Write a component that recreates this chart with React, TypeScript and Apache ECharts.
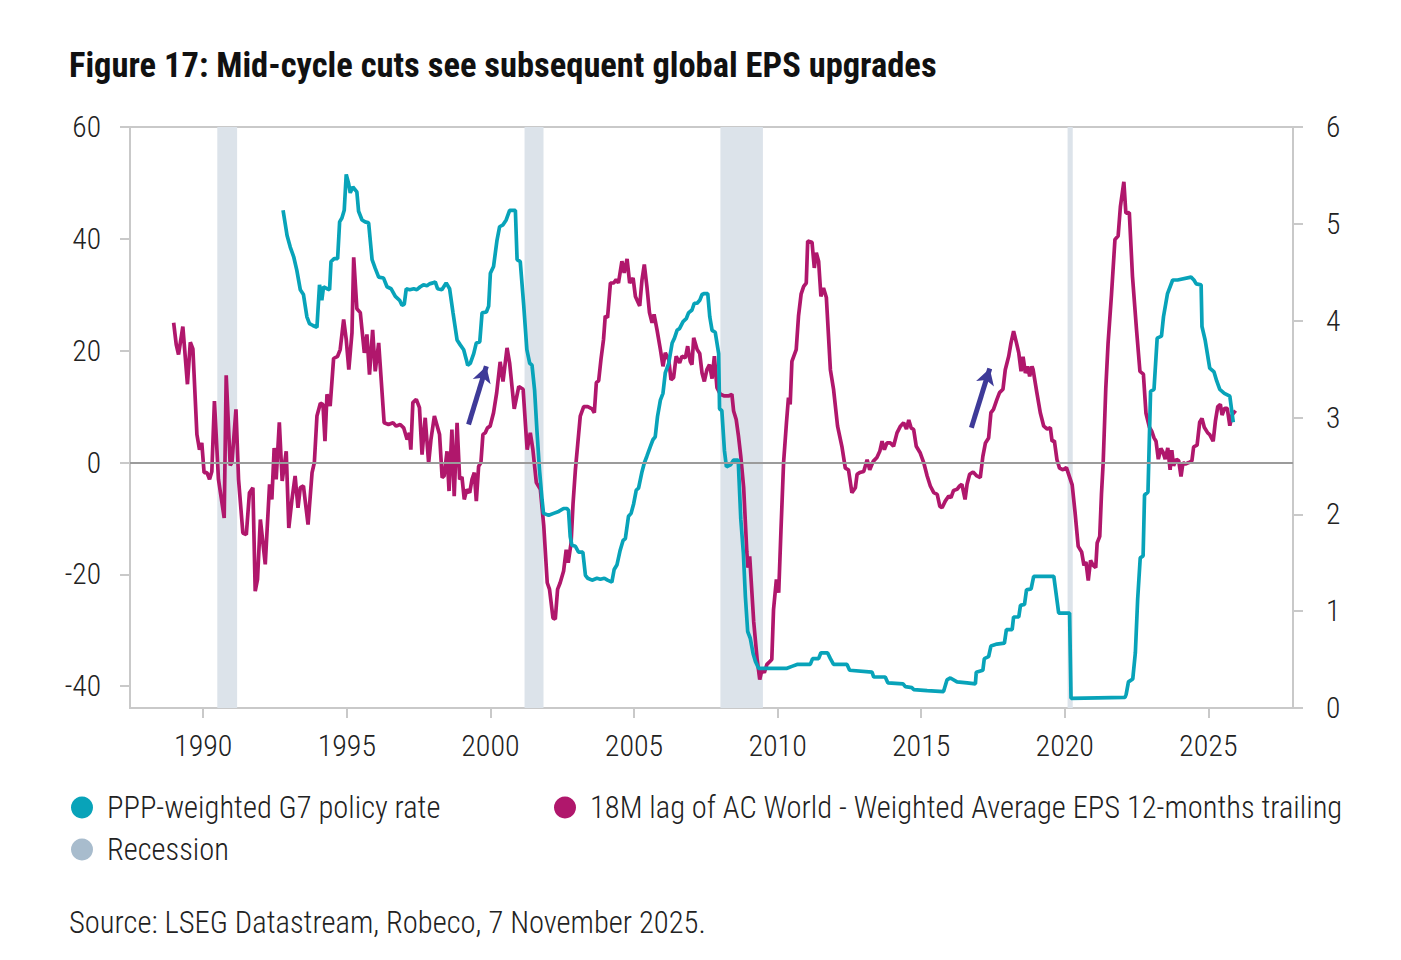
import React, { useEffect, useRef } from "react";
import * as echarts from "echarts";

const FONT = "'Roboto Condensed', 'Liberation Sans Narrow', 'DejaVu Sans Condensed', Roboto, sans-serif";

const TITLE = "Figure 17: Mid-cycle cuts see subsequent global EPS upgrades";
const SOURCE = "Source: LSEG Datastream, Robeco, 7 November 2025.";
const RATE_NAME = "PPP-weighted G7 policy rate";
const EPS_NAME = "18M lag of AC World - Weighted Average EPS 12-months trailing";
const REC_NAME = "Recession";

const xTicks = [1990, 1995, 2000, 2005, 2010, 2015, 2020, 2025];
const leftTicks = [-40, -20, 0, 20, 40, 60];

const recessions: [number, number][] = [
  [1990.49, 1991.18],
  [2001.19, 2001.85],
  [2008.01, 2009.49],
  [2020.1, 2020.28],
];

const arrows: [[number, number], [number, number]][] = [
  [[1999.24, 6.8], [1999.86, 17.2]],
  [[2016.75, 6.2], [2017.39, 16.8]],
];

// 18M lag of AC World EPS (left axis, %)
const epsData: [number, number][] = [
  [1988.97, 25.0], [1989.06, 21.1], [1989.14, 19.3], [1989.29, 24.3], [1989.45, 14.0], [1989.55, 21.5],
  [1989.64, 20.3], [1989.78, 5.0], [1989.87, 2.3], [1989.95, 3.5], [1990.03, -1.8], [1990.13, -1.8],
  [1990.22, -3.0], [1990.3, -1.6], [1990.39, 11.0], [1990.53, -3.0], [1990.73, -9.9], [1990.8, 15.6],
  [1990.94, -0.5], [1991.0, 0.0], [1991.14, 9.5], [1991.23, -3.0], [1991.38, -12.6], [1991.5, -12.9],
  [1991.61, -5.4], [1991.73, -4.5], [1991.81, -23.0], [1991.89, -20.9], [1991.99, -10.2], [1992.16, -18.2],
  [1992.31, -3.9], [1992.39, -6.6], [1992.47, 2.6], [1992.54, -3.0], [1992.65, 7.2], [1992.75, -3.3],
  [1992.89, 2.0], [1992.98, -11.7], [1993.09, -6.6], [1993.2, -2.4], [1993.3, -8.1], [1993.38, -4.5],
  [1993.49, -4.2], [1993.65, -11.1], [1993.79, -1.8], [1993.87, 0.0], [1993.96, 8.3], [1994.08, 10.6],
  [1994.17, 10.4], [1994.24, 3.8], [1994.31, 12.2], [1994.42, 10.1], [1994.54, 18.6], [1994.68, 19.0],
  [1994.77, 20.2], [1994.89, 25.6], [1994.98, 22.0], [1995.07, 16.6], [1995.18, 23.2], [1995.24, 36.7],
  [1995.35, 27.5], [1995.47, 26.8], [1995.61, 19.6], [1995.7, 22.9], [1995.79, 15.7], [1995.9, 23.7],
  [1995.99, 16.3], [1996.11, 21.4], [1996.3, 7.1], [1996.45, 6.8], [1996.61, 7.1], [1996.72, 6.5],
  [1996.86, 6.8], [1996.98, 6.2], [1997.1, 4.1], [1997.18, 5.3], [1997.23, 2.3], [1997.3, 10.7],
  [1997.42, 11.3], [1997.53, 9.8], [1997.62, 1.4], [1997.73, 8.0], [1997.85, -0.1], [1997.93, 4.1],
  [1998.05, 8.3], [1998.23, 5.0], [1998.32, -2.7], [1998.39, -2.4], [1998.49, 2.0], [1998.56, -5.1],
  [1998.66, 5.9], [1998.74, -6.0], [1998.84, 7.1], [1998.93, -3.0], [1999.01, -2.6], [1999.09, -6.6],
  [1999.18, -4.8], [1999.28, -5.4], [1999.36, -3.0], [1999.44, -1.8], [1999.51, -6.9], [1999.59, -0.7],
  [1999.67, 0.0], [1999.74, 5.0], [1999.82, 5.3], [1999.9, 6.2], [1999.99, 6.5], [2000.11, 8.9],
  [2000.22, 12.5], [2000.34, 18.0], [2000.44, 14.5], [2000.58, 20.5], [2000.67, 17.8], [2000.83, 9.6],
  [2000.99, 13.6], [2001.14, 13.1], [2001.28, 2.3], [2001.39, 5.3], [2001.48, 2.3], [2001.6, -3.6],
  [2001.74, -4.8], [2001.86, -11.4], [2001.98, -21.5], [2002.06, -22.7], [2002.18, -27.8], [2002.26, -28.0],
  [2002.34, -22.7], [2002.43, -21.5], [2002.55, -19.4], [2002.64, -15.6], [2002.71, -17.9], [2002.81, -14.4],
  [2002.88, -7.2], [2002.96, -1.3], [2003.04, 3.2], [2003.13, 8.3], [2003.25, 10.0], [2003.39, 10.0],
  [2003.54, 9.6], [2003.62, 8.9], [2003.69, 14.3], [2003.77, 14.6], [2003.85, 18.4], [2003.94, 22.0],
  [2004.0, 26.2], [2004.08, 25.9], [2004.18, 32.1], [2004.29, 32.1], [2004.38, 32.7], [2004.46, 32.1],
  [2004.58, 36.0], [2004.66, 33.9], [2004.76, 36.4], [2004.85, 32.1], [2004.97, 33.0], [2005.05, 29.7],
  [2005.2, 28.0], [2005.28, 32.7], [2005.36, 35.4], [2005.45, 31.5], [2005.54, 26.8], [2005.63, 25.0],
  [2005.7, 26.5], [2005.8, 23.8], [2005.92, 20.2], [2006.01, 17.2], [2006.09, 19.6], [2006.21, 18.4],
  [2006.29, 14.8], [2006.38, 15.2], [2006.47, 19.0], [2006.59, 17.8], [2006.67, 19.0], [2006.79, 18.7],
  [2006.87, 20.8], [2006.96, 18.1], [2007.02, 17.5], [2007.08, 22.3], [2007.2, 20.2], [2007.29, 19.5],
  [2007.37, 16.0], [2007.45, 14.5], [2007.54, 16.6], [2007.63, 17.5], [2007.72, 15.0], [2007.8, 19.0],
  [2007.89, 13.4], [2008.01, 12.2], [2008.15, 11.9], [2008.29, 11.9], [2008.41, 12.2], [2008.47, 9.2],
  [2008.56, 7.7], [2008.64, 4.7], [2008.72, 1.1], [2008.82, -4.5], [2008.93, -16.0], [2008.97, -18.8],
  [2009.03, -16.8], [2009.17, -28.5], [2009.29, -35.2], [2009.38, -38.8], [2009.46, -37.0], [2009.54, -37.6],
  [2009.63, -36.1], [2009.75, -35.5], [2009.8, -35.2], [2009.86, -26.3], [2009.96, -20.9], [2010.04, -23.3],
  [2010.12, -12.0], [2010.21, 0.0], [2010.31, 7.1], [2010.38, 11.6], [2010.44, 10.4], [2010.5, 18.1],
  [2010.65, 20.2], [2010.73, 26.2], [2010.82, 30.1], [2010.91, 31.5], [2011.0, 32.1], [2011.05, 39.6],
  [2011.2, 39.4], [2011.28, 34.8], [2011.35, 37.5], [2011.43, 36.0], [2011.51, 29.7], [2011.6, 31.2],
  [2011.7, 29.5], [2011.84, 16.6], [2011.95, 13.1], [2012.09, 6.5], [2012.24, 2.9], [2012.36, -1.0],
  [2012.47, -1.3], [2012.59, -5.4], [2012.71, -4.5], [2012.77, -2.1], [2012.86, -1.8], [2013.0, -1.6],
  [2013.12, 0.5], [2013.21, -1.3], [2013.33, 0.2], [2013.46, 0.9], [2013.56, 2.0], [2013.64, 3.8],
  [2013.72, 2.3], [2013.81, 3.5], [2013.93, 3.5], [2014.04, 2.9], [2014.16, 5.3], [2014.28, 6.5],
  [2014.39, 7.1], [2014.49, 6.0], [2014.57, 7.6], [2014.65, 6.2], [2014.74, 5.9], [2014.83, 2.9],
  [2014.97, 1.7], [2015.09, 0.0], [2015.21, -2.4], [2015.32, -4.2], [2015.44, -5.4], [2015.56, -5.7],
  [2015.65, -7.8], [2015.73, -8.1], [2015.84, -6.9], [2015.96, -6.0], [2016.04, -6.3], [2016.13, -5.0],
  [2016.25, -4.8], [2016.34, -4.2], [2016.42, -3.9], [2016.53, -6.6], [2016.6, -3.9], [2016.69, -2.1],
  [2016.81, -1.7], [2016.94, -2.4], [2017.06, -2.7], [2017.15, 1.1], [2017.24, 3.5], [2017.35, 4.4],
  [2017.43, 8.9], [2017.52, 9.5], [2017.64, 11.3], [2017.73, 12.5], [2017.85, 13.1], [2017.93, 16.6],
  [2018.05, 19.0], [2018.13, 21.4], [2018.22, 23.5], [2018.32, 21.4], [2018.4, 19.6], [2018.48, 16.3],
  [2018.55, 18.9], [2018.63, 16.0], [2018.71, 17.2], [2018.78, 15.4], [2018.86, 17.2], [2018.9, 16.6],
  [2019.03, 12.5], [2019.15, 8.9], [2019.27, 6.5], [2019.39, 6.0], [2019.5, 6.2], [2019.56, 3.8],
  [2019.64, 3.9], [2019.73, 0.5], [2019.82, -1.0], [2019.94, -1.3], [2020.06, -0.9], [2020.17, -2.6],
  [2020.26, -4.0], [2020.36, -8.9], [2020.47, -15.0], [2020.59, -16.0], [2020.67, -18.4], [2020.74, -17.8],
  [2020.82, -21.1], [2020.9, -17.5], [2020.99, -18.4], [2021.08, -18.8], [2021.13, -14.4], [2021.22, -13.2],
  [2021.28, -5.7], [2021.34, 0.0], [2021.43, 13.2], [2021.51, 21.3], [2021.63, 30.1], [2021.75, 39.9],
  [2021.86, 40.5], [2021.94, 45.8], [2022.06, 50.2], [2022.13, 44.6], [2022.25, 44.7], [2022.36, 33.3],
  [2022.5, 23.8], [2022.62, 16.3], [2022.74, 15.8], [2022.83, 8.8], [2022.95, 6.3], [2023.03, 5.6],
  [2023.11, 4.4], [2023.18, 3.8], [2023.26, 0.6], [2023.35, 2.5], [2023.42, 1.9], [2023.5, 0.6],
  [2023.59, 2.6], [2023.67, -1.3], [2023.73, 2.2], [2023.79, -0.6], [2023.89, 0.6], [2023.97, 0.3],
  [2024.05, -2.5], [2024.12, 0.0], [2024.2, -0.3], [2024.32, 0.0], [2024.43, 0.3], [2024.49, 2.8],
  [2024.61, 3.1], [2024.7, 7.2], [2024.78, 7.9], [2024.86, 6.3], [2024.98, 5.3], [2025.05, 5.0],
  [2025.17, 3.8], [2025.25, 7.5], [2025.33, 10.0], [2025.42, 10.4], [2025.48, 8.5], [2025.57, 9.7],
  [2025.66, 9.7], [2025.75, 6.6], [2025.83, 8.5], [2025.95, 9.3],
];

// PPP-weighted G7 policy rate (right axis, %)
const rateData: [number, number][] = [
  [1992.78, 5.14], [1992.92, 4.88], [1993.03, 4.76], [1993.15, 4.66], [1993.26, 4.52], [1993.38, 4.32],
  [1993.49, 4.27], [1993.61, 4.04], [1993.7, 3.97], [1993.82, 3.95], [1993.96, 3.93], [1994.05, 4.37],
  [1994.13, 4.21], [1994.19, 4.35], [1994.31, 4.33], [1994.4, 4.32], [1994.45, 4.61], [1994.56, 4.64],
  [1994.68, 4.64], [1994.75, 5.02], [1994.83, 5.06], [1994.91, 5.14], [1994.98, 5.51], [1995.06, 5.42],
  [1995.12, 5.32], [1995.21, 5.38], [1995.35, 5.33], [1995.41, 5.13], [1995.53, 5.04], [1995.64, 5.02],
  [1995.76, 5.01], [1995.88, 4.63], [1995.99, 4.54], [1996.11, 4.45], [1996.28, 4.44], [1996.4, 4.35],
  [1996.54, 4.33], [1996.69, 4.25], [1996.84, 4.21], [1996.92, 4.16], [1997.0, 4.17], [1997.07, 4.33],
  [1997.19, 4.32], [1997.33, 4.33], [1997.44, 4.32], [1997.56, 4.35], [1997.67, 4.37], [1997.79, 4.36],
  [1997.88, 4.38], [1998.0, 4.39], [1998.08, 4.4], [1998.16, 4.33], [1998.31, 4.32], [1998.46, 4.39],
  [1998.58, 4.33], [1998.7, 4.08], [1998.84, 3.8], [1998.95, 3.75], [1999.07, 3.7], [1999.16, 3.6],
  [1999.21, 3.54], [1999.3, 3.56], [1999.42, 3.66], [1999.51, 3.77], [1999.63, 3.78], [1999.71, 4.08],
  [1999.86, 4.09], [1999.94, 4.15], [2000.0, 4.49], [2000.11, 4.56], [2000.23, 4.83], [2000.32, 4.97],
  [2000.44, 4.99], [2000.55, 5.04], [2000.67, 5.14], [2000.87, 5.14], [2000.93, 4.63], [2001.04, 4.61],
  [2001.16, 4.16], [2001.27, 3.7], [2001.37, 3.56], [2001.45, 3.54], [2001.54, 3.28], [2001.62, 2.87],
  [2001.71, 2.46], [2001.8, 2.15], [2001.85, 2.01], [2002.03, 1.99], [2002.2, 2.01], [2002.38, 2.03],
  [2002.55, 2.06], [2002.67, 2.06], [2002.72, 2.04], [2002.78, 1.77], [2002.84, 1.68], [2002.96, 1.67],
  [2003.07, 1.61], [2003.22, 1.61], [2003.31, 1.37], [2003.39, 1.34], [2003.54, 1.32], [2003.71, 1.34],
  [2003.83, 1.33], [2003.97, 1.34], [2004.08, 1.32], [2004.23, 1.3], [2004.31, 1.43], [2004.41, 1.48],
  [2004.52, 1.63], [2004.62, 1.73], [2004.7, 1.75], [2004.81, 1.98], [2004.9, 2.01], [2004.99, 2.11],
  [2005.08, 2.25], [2005.16, 2.27], [2005.28, 2.44], [2005.36, 2.53], [2005.45, 2.6], [2005.57, 2.7],
  [2005.66, 2.77], [2005.74, 2.8], [2005.82, 3.01], [2005.92, 3.18], [2006.01, 3.25], [2006.09, 3.46],
  [2006.21, 3.56], [2006.33, 3.77], [2006.41, 3.82], [2006.5, 3.9], [2006.59, 3.92], [2006.71, 3.99],
  [2006.82, 4.02], [2006.9, 4.08], [2007.02, 4.11], [2007.1, 4.18], [2007.2, 4.18], [2007.29, 4.21],
  [2007.37, 4.27], [2007.45, 4.28], [2007.57, 4.28], [2007.64, 4.04], [2007.72, 3.9], [2007.83, 3.88],
  [2007.95, 3.66], [2007.98, 3.09], [2008.06, 3.07], [2008.15, 2.66], [2008.22, 2.49], [2008.36, 2.51],
  [2008.47, 2.56], [2008.63, 2.56], [2008.72, 1.95], [2008.81, 1.6], [2008.88, 1.15], [2008.96, 0.79],
  [2009.05, 0.72], [2009.15, 0.56], [2009.23, 0.48], [2009.34, 0.41], [2010.33, 0.41], [2010.5, 0.43],
  [2010.68, 0.45], [2011.14, 0.45], [2011.22, 0.51], [2011.43, 0.51], [2011.51, 0.57], [2011.74, 0.57],
  [2011.84, 0.51], [2011.95, 0.45], [2012.42, 0.45], [2012.51, 0.39], [2013.29, 0.37], [2013.35, 0.32],
  [2013.75, 0.32], [2013.84, 0.26], [2014.37, 0.25], [2014.45, 0.22], [2014.68, 0.21], [2014.74, 0.19],
  [2015.21, 0.18], [2015.78, 0.17], [2015.9, 0.29], [2016.02, 0.31], [2016.25, 0.27], [2016.6, 0.26],
  [2016.89, 0.25], [2016.92, 0.37], [2017.15, 0.39], [2017.2, 0.51], [2017.35, 0.53], [2017.43, 0.64],
  [2017.64, 0.66], [2017.9, 0.67], [2017.97, 0.81], [2018.17, 0.81], [2018.22, 0.94], [2018.4, 0.94],
  [2018.46, 1.06], [2018.6, 1.07], [2018.67, 1.22], [2018.83, 1.23], [2018.92, 1.36], [2019.62, 1.36],
  [2019.79, 0.98], [2020.17, 0.98], [2020.22, 0.1], [2022.1, 0.11], [2022.14, 0.14], [2022.22, 0.27],
  [2022.37, 0.3], [2022.46, 0.57], [2022.54, 1.12], [2022.63, 1.55], [2022.73, 1.57], [2022.78, 2.2],
  [2022.9, 2.23], [2022.99, 3.27], [2023.11, 3.29], [2023.22, 3.82], [2023.37, 3.84], [2023.44, 4.04],
  [2023.58, 4.28], [2023.76, 4.42], [2023.93, 4.42], [2024.4, 4.45], [2024.5, 4.42], [2024.58, 4.38],
  [2024.75, 4.37], [2024.78, 3.94], [2024.89, 3.8], [2025.05, 3.51], [2025.2, 3.47], [2025.29, 3.38],
  [2025.4, 3.29], [2025.56, 3.25], [2025.75, 3.22], [2025.87, 2.95],
];

const TEAL = "#08a3b9";
const PINK = "#b0176c";
const REC_BAND = "#dce3ea";
const REC_DOT = "#a8bccd";
const ARROW = "#3e3a98";
const AXIS = "#c9c9c9";
const TEXT = "#222222";

export default function App() {
  const ref = useRef<HTMLDivElement>(null);
  useEffect(() => {
    if (!ref.current) return;
    const chart = echarts.init(ref.current, undefined, { renderer: "svg" });
    const labelStyle = { fontFamily: FONT, fontSize: 29.5, fontWeight: 300, color: TEXT };
    const legendText = { fontFamily: FONT, fontSize: 30.5, fontWeight: 300, color: TEXT, padding: [0, 0, 0, 9] };
    const option: any = {
      animation: false,
      backgroundColor: "#ffffff",
      textStyle: { fontFamily: FONT },
      title: {
        text: TITLE,
        left: 64,
        top: 42,
        textStyle: { fontFamily: FONT, fontSize: 34.5, fontWeight: "bold", color: "#111111" },
      },
      legend: [
        {
          orient: "vertical",
          left: 71,
          top: 792,
          padding: 0,
          itemWidth: 22,
          itemHeight: 22,
          itemGap: 11,
          icon: "circle",
          data: [RATE_NAME, REC_NAME],
          textStyle: legendText,
          selectedMode: false,
        },
        {
          orient: "vertical",
          left: 554,
          top: 792,
          padding: 0,
          itemWidth: 22,
          itemHeight: 22,
          icon: "circle",
          data: [EPS_NAME],
          textStyle: legendText,
          selectedMode: false,
        },
      ],
      graphic: [
        {
          type: "text",
          left: 69,
          top: 907,
          style: { text: SOURCE, fontFamily: FONT, fontSize: 30.6, fontWeight: 300, fill: TEXT },
        },
      ],
      grid: {
        left: 130,
        right: 108,
        top: 127,
        bottom: 252,
        show: true,
        borderColor: AXIS,
        borderWidth: 2,
        backgroundColor: "transparent",
      },
      xAxis: {
        type: "value",
        min: 1987.45,
        max: 2027.95,
        axisLine: { show: true, onZero: false, lineStyle: { color: AXIS, width: 2 } },
        axisTick: { show: true, length: 10, lineStyle: { color: AXIS, width: 2 }, customValues: xTicks },
        axisLabel: { ...labelStyle, fontSize: 30, margin: 22, customValues: xTicks, formatter: (v: number) => String(v) },
        splitLine: { show: false },
      },
      yAxis: [
        {
          type: "value",
          min: -43.9,
          max: 60,
          position: "left",
          axisLine: { show: true, lineStyle: { color: AXIS, width: 2 } },
          axisTick: { show: true, length: 10, lineStyle: { color: AXIS, width: 2 }, customValues: leftTicks },
          axisLabel: { ...labelStyle, margin: 29, customValues: leftTicks, formatter: (v: number) => String(v) },
          splitLine: { show: false },
        },
        {
          type: "value",
          min: 0,
          max: 6,
          interval: 1,
          position: "right",
          axisLine: { show: true, lineStyle: { color: AXIS, width: 2 } },
          axisTick: { show: true, length: 10, lineStyle: { color: AXIS, width: 2 } },
          axisLabel: { ...labelStyle, margin: 33 },
          splitLine: { show: false },
        },
      ],
      series: [
        {
          name: REC_NAME,
          type: "line",
          xAxisIndex: 0,
          yAxisIndex: 0,
          data: [],
          z: 1,
          itemStyle: { color: REC_DOT },
          lineStyle: { color: REC_DOT },
          silent: true,
          markArea: {
            silent: true,
            itemStyle: { color: REC_BAND },
            data: recessions.map(([a, b]) => [{ xAxis: a }, { xAxis: b }]),
          },
          markLine: {
            silent: true,
            symbol: "none",
            label: { show: false },
            lineStyle: { color: "#9b9b9b", width: 2, type: "solid" },
            data: [{ yAxis: 0 }],
          },
        },
        {
          name: EPS_NAME,
          type: "line",
          yAxisIndex: 0,
          data: epsData,
          showSymbol: false,
          symbol: "none",
          z: 3,
          itemStyle: { color: PINK },
          lineStyle: { color: PINK, width: 3.7 },
          markLine: {
            silent: true,
            label: { show: false },
            symbol: ["none", "arrow"],
            symbolSize: [14, 16],
            lineStyle: { color: ARROW, width: 5, type: "solid" },
            data: arrows.map(([p, q]) => [{ coord: p }, { coord: q }]),
          },
        },
        {
          name: RATE_NAME,
          type: "line",
          yAxisIndex: 1,
          data: rateData,
          showSymbol: false,
          symbol: "none",
          z: 4,
          itemStyle: { color: TEAL },
          lineStyle: { color: TEAL, width: 3.7 },
        },
      ],
    };
    chart.setOption(option);
    return () => chart.dispose();
  }, []);
  return (
    <div
      ref={ref}
      style={{ position: "fixed", left: 0, top: 0, width: 1401, height: 960, background: "#fff" }}
    />
  );
}
